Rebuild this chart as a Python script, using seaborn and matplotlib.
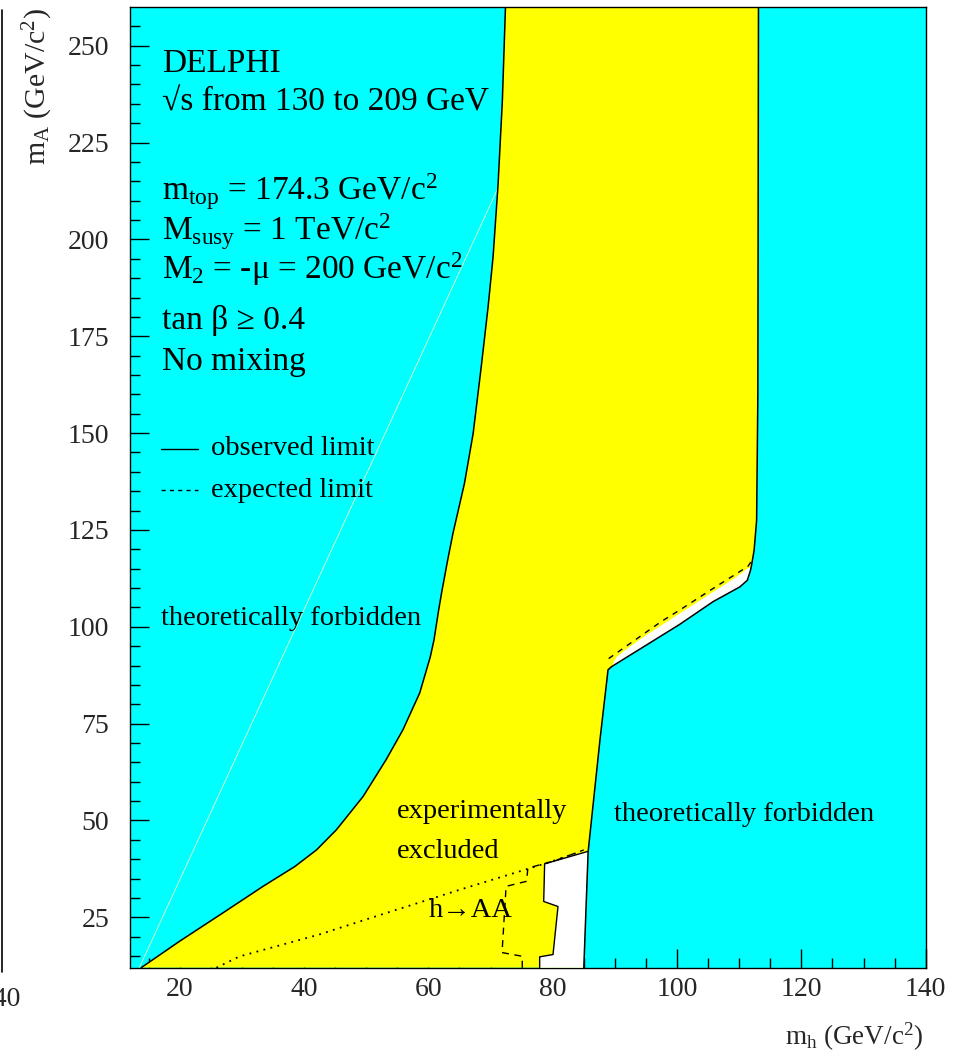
import numpy as np
import matplotlib
matplotlib.use("Agg")
import matplotlib.pyplot as plt
from matplotlib.lines import Line2D
import seaborn as sns

# ---- limit contours in the (m_h, m_A) plane, GeV/c^2 ----
# observed limit on the low-m_h side (boundary with the forbidden region)
left_mh = [13.8, 19.95, 26.9, 33.4, 38.5, 42.0, 45.2, 49.5, 53.2, 55.9, 58.6,
           60.3, 60.9, 61.65, 62.15, 63.1, 63.95, 65.8, 67.2, 68.5, 69.6, 70.4,
           71.2, 71.9, 72.4]
left_mA = [12.0, 18.8, 26.1, 33.0, 38.1, 42.4, 47.6, 56.2, 65.7, 73.4, 82.9,
           92.2, 96.6, 104.3, 109.0, 117.2, 124.1, 137.0, 149.9, 167.1, 182.5,
           195.4, 213.9, 235.8, 260.0]

# theoretical upper bound on m_h
right_mh = [85.0, 85.7, 87.6, 88.9, 89.45, 100.4, 105.8, 110.1, 111.3, 111.8,
            112.0, 112.4, 112.8, 113.0, 113.1]
right_mA = [12.0, 42.0, 70.8, 88.9, 89.7, 100.6, 106.5, 110.3, 112.0, 114.5,
            116.0, 119.8, 127.5, 160.0, 260.0]

# observed limit along the maximal-m_h edge (allowed sliver below it)
sliver_mh = [89.7, 89.8, 90.4, 92.0, 95.0, 100.4, 105.8, 109.5, 111.2, 111.8]
sliver_mA = [89.95, 91.0, 92.4, 94.4, 97.8, 103.4, 109.0, 112.8, 114.9, 115.4]

# expected limit along the same edge
exp_edge_mh = [89.0, 92.0, 97.5, 100.4, 105.8, 111.4, 112.0]
exp_edge_mA = [91.8, 95.2, 101.4, 104.3, 109.9, 115.6, 117.0]

# h -> AA observed limit (allowed pocket at low m_A)
aa_obs_mh = [77.9, 77.9, 80.05, 80.85, 78.55, 78.7, 85.6]
aa_obs_mA = [12.0, 14.8, 15.4, 27.8, 29.1, 38.8, 42.0]

# h -> AA expected limit
aa_exp_mh = [75.1, 75.1, 71.85, 72.5, 75.8, 76.0, 80.5, 85.0]
aa_exp_mA = [12.0, 14.95, 15.9, 33.0, 34.3, 37.7, 39.7, 42.4]

# dotted contour below the h -> AA label
dot_mh = [25.9, 29.6, 42.5, 52.2, 65.0, 79.0, 84.4]
dot_mA = [12.0, 14.9, 20.6, 25.6, 32.1, 39.0, 41.9]

# faint line inside the left forbidden region
faint_mh = [13.5, 71.15]
faint_mA = [12.0, 213.1]

x_ticks = [20, 40, 60, 80, 100, 120, 140]
y_ticks = [25, 50, 75, 100, 125, 150, 175, 200, 225, 250]

CYAN = "#00FFFF"
YELLOW = "#FFFF00"

sns.set_style("ticks")
plt.rcParams["font.family"] = ["Liberation Serif", "DejaVu Serif"]
plt.rcParams["mathtext.fontset"] = "custom"
plt.rcParams["mathtext.rm"] = "Liberation Serif"
plt.rcParams["mathtext.it"] = "Liberation Serif"
plt.rcParams["mathtext.bf"] = "Liberation Serif"

W, H = 961, 1058
fig = plt.figure(figsize=(W / 100, H / 100), dpi=100)
ax = fig.add_axes([130 / W, 1 - 967.7 / H, (925.7 - 130) / W, (967.7 - 7) / H])
ax.set_xlim(12, 140)
ax.set_ylim(12, 260)
ax.set_facecolor(CYAN)

# faint line in the forbidden region
sns.lineplot(x=faint_mh, y=faint_mA, sort=False, estimator=None,
             color="#c8ffc8", lw=0.7, ax=ax, zorder=1)

# experimentally excluded band
band_x = np.concatenate([left_mh, right_mh[::-1]])
band_y = np.concatenate([left_mA, right_mA[::-1]])
ax.fill(band_x, band_y, color=YELLOW, lw=0, zorder=2)

# allowed sliver along the maximal-m_h edge
r_mh = np.array(right_mh)
r_mA = np.array(right_mA)
inside = (r_mA > sliver_mA[0]) & (r_mA < sliver_mA[-1])
sl_x = np.concatenate([sliver_mh, r_mh[inside][::-1]])
sl_y = np.concatenate([sliver_mA, r_mA[inside][::-1]])
ax.fill(sl_x, sl_y, color="white", lw=0, zorder=3)

# allowed pocket from h -> AA
aa_x = np.concatenate([aa_obs_mh, [85.0]])
aa_y = np.concatenate([aa_obs_mA, [12.0]])
ax.fill(aa_x, aa_y, color="white", lw=0, zorder=3)

# contour lines
line_kw = dict(sort=False, estimator=None, color="black", ax=ax, zorder=5)
sns.lineplot(x=left_mh, y=left_mA, lw=1.1, **line_kw)
sns.lineplot(x=right_mh, y=right_mA, lw=1.1, **line_kw)
sns.lineplot(x=aa_obs_mh, y=aa_obs_mA, lw=1.0, **line_kw)
sns.lineplot(x=exp_edge_mh, y=exp_edge_mA, lw=1.0, linestyle=(0, (4, 4)), **line_kw)
sns.lineplot(x=aa_exp_mh, y=aa_exp_mA, lw=1.0, linestyle=(0, (5, 4)), **line_kw)
sns.lineplot(x=dot_mh, y=dot_mA, lw=1.3, linestyle=(0, (1, 3)), **line_kw)

# axes styling
for s in ax.spines.values():
    s.set_visible(True)
    s.set_color("black")
    s.set_linewidth(1.0)
ax.set_xticks(x_ticks)
ax.set_yticks(y_ticks)
ax.set_xticks(np.arange(15, 140, 5), minor=True)
ax.set_yticks(np.arange(15, 260, 5), minor=True)
ax.tick_params(which="both", direction="in", left=True, bottom=True,
               top=False, right=False, color="black", width=1.0)
ax.tick_params(which="major", length=14)
ax.tick_params(which="minor", length=7)
ax.tick_params(axis="y", which="major", labelsize=20, pad=15)
ax.tick_params(axis="x", which="major", labelsize=20, pad=7)
ax.set_xlabel("")
ax.set_ylabel("")

# run conditions block
hdr = dict(fontsize=24, ha="left", va="baseline", color="black", zorder=6)
ax.text(17.2, 243.1, "DELPHI", **hdr)
ax.text(17.2, 233.2, "\u221as from 130 to 209 GeV", **hdr)
ax.text(17.2, 210.0, "m$_{top}$ = 174.3 GeV/c$^{2}$", **hdr)
ax.text(17.2, 199.7, "M$_{susy}$ = 1 TeV/c$^{2}$", **hdr)
ax.text(17.2, 189.9, "M$_{2}$ = -\u03bc = 200 GeV/c$^{2}$", **hdr)
ax.text(17.2, 177.0, "tan \u03b2 \u2265 0.4", **hdr)
ax.text(17.2, 166.2, "No mixing", **hdr)

# legend and region labels
txt = dict(fontsize=20.5, ha="left", va="baseline", color="black", zorder=6)
ax.plot([17.0, 22.9], [146.0, 146.0], color="black", lw=1.0, zorder=6)
ax.text(25.06, 144.3, "observed limit", **txt)
ax.plot([17.0, 22.9], [135.3, 135.3], color="black", lw=1.0,
        linestyle=(0, (3, 3)), zorder=6)
ax.text(25.06, 133.5, "expected limit", **txt)

ax.text(17.05, 100.5, "theoretically forbidden", **txt)
ax.text(89.8, 49.9, "theoretically forbidden", **txt)
ax.text(55.0, 50.7, "experimentally", **txt)
ax.text(54.9, 40.3, "excluded", **txt)
ax.text(60.1, 25.1, "h\u2192AA", **txt)

# axis titles
fig.text(923.3 / W, 1 - 1045 / H, "m$_{h}$ (GeV/c$^{2}$)", fontsize=19.5,
         ha="right", va="baseline")
fig.text(38 / W, 1 - 8 / H, "m$_{A}$ (GeV/c$^{2}$)", fontsize=21.5,
         rotation=90, ha="center", va="top")

# edge of the neighbouring panel
fig.add_artist(Line2D([1.5 / W, 1.5 / W], [1 - 10 / H, 1 - 972 / H],
                      transform=fig.transFigure, color="black", lw=1.2))
fig.text(21 / W, 1 - 1006 / H, "140", fontsize=20, ha="right", va="baseline")

fig.savefig("out.png", dpi=100)
